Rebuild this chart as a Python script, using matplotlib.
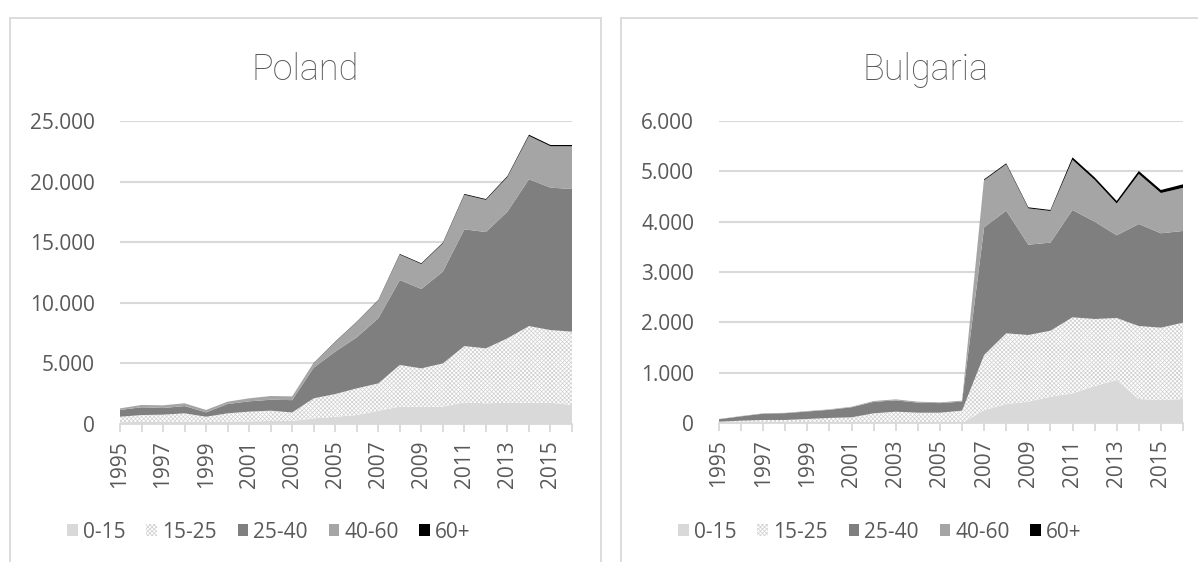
import matplotlib
matplotlib.use('Agg')
import matplotlib.pyplot as plt
from matplotlib.patches import Rectangle, Patch
from matplotlib.ticker import FuncFormatter, MultipleLocator
import numpy as np

plt.rcParams['font.family'] = ['Open Sans', 'DejaVu Sans']
plt.rcParams['hatch.linewidth'] = 0.5

#%% data
years = list(range(1995, 2017))
groups = ['0-15', '15-25', '25-40', '40-60', '60+']

pl_0_15 = [150, 170, 180, 200, 150, 200, 220, 250, 250, 470, 600, 740, 1100, 1430, 1430, 1430, 1790, 1710, 1760, 1760, 1760, 1570]
pl_15_25 = [450, 570, 590, 680, 450, 680, 800, 850, 700, 1650, 1870, 2200, 2250, 3440, 3160, 3570, 4640, 4530, 5310, 6320, 5990, 6050]
pl_25_40 = [560, 640, 550, 600, 360, 770, 850, 900, 1020, 2530, 3500, 4210, 5370, 7010, 6550, 7570, 9630, 9600, 10450, 12110, 11750, 11770]
pl_40_60 = [130, 190, 220, 230, 200, 190, 250, 310, 310, 370, 800, 1260, 1470, 2090, 2060, 2330, 2850, 2650, 2860, 3580, 3420, 3530]
pl_60p = [0, 0, 0, 0, 0, 0, 0, 0, 0, 20, 30, 30, 40, 60, 60, 60, 70, 70, 80, 100, 100, 100]

bg_0_15 = [0, 0, 0, 0, 0, 0, 0, 0, 0, 0, 0, 0, 258, 377, 424, 523, 590, 735, 854, 477, 457, 477]
bg_15_25 = [26, 46, 60, 60, 80, 100, 113, 192, 225, 205, 205, 245, 1093, 1405, 1324, 1311, 1510, 1331, 1232, 1450, 1437, 1516]
bg_25_40 = [49, 86, 125, 135, 148, 162, 199, 228, 225, 200, 190, 180, 2537, 2436, 1795, 1749, 2132, 1934, 1643, 2027, 1875, 1822]
bg_40_60 = [5, 7, 7, 7, 10, 10, 12, 17, 20, 19, 15, 19, 934, 922, 722, 629, 996, 831, 632, 993, 800, 857]
bg_60p = [0, 0, 0, 0, 0, 0, 0, 0, 0, 0, 0, 0, 20, 20, 20, 20, 50, 50, 50, 60, 60, 70]

#%% style
colors = ['#d9d9d9', 'white', '#7f7f7f', '#a5a5a5', '#000000']
hatch = 'xxxxxxxx'
hatch_col = '#cfcfcf'
txt_col = '#595959'
grid_col = '#d9d9d9'
fs = 15

W, H = 1198, 562
fig = plt.figure(figsize=(W / 100, H / 100), dpi=100)

# panel borders
for x0, x1 in [(10, 601), (621, 1210)]:
    fig.add_artist(Rectangle((x0 / W, -0.1), (x1 - x0) / W, 1.1 - 18 / H,
                             transform=fig.transFigure, fill=False,
                             ec=grid_col, lw=1.3))

fmt = FuncFormatter(lambda v, p: '{:,.0f}'.format(v).replace(',', '.'))


def draw_panel(rect, series, ymax, ystep, title, tx, legx):
    ax = fig.add_axes(rect)
    polys = ax.stackplot(years, *series, colors=colors, linewidth=0)
    polys[1].set_hatch(hatch)
    polys[1].set_edgecolor(hatch_col)
    polys[1].set_linewidth(0)
    ax.set_xlim(years[0], years[-1])
    ax.set_ylim(0, ymax)
    ax.yaxis.set_major_locator(MultipleLocator(ystep))
    ax.yaxis.set_major_formatter(fmt)
    ax.set_xticks(years)
    ax.set_xticklabels([str(y) if (y - 1995) % 2 == 0 else '' for y in years],
                       rotation=90)
    ax.grid(axis='y', color=grid_col, lw=1.5)
    ax.set_axisbelow(True)
    for s in ['top', 'right', 'left']:
        ax.spines[s].set_visible(False)
    ax.spines['bottom'].set_color(grid_col)
    ax.spines['bottom'].set_linewidth(1.3)
    ax.tick_params(axis='y', length=0, pad=18, labelsize=fs, labelcolor=txt_col)
    ax.tick_params(axis='x', length=6, width=1.3, color=grid_col, pad=6,
                   labelsize=fs, labelcolor=txt_col)
    fig.text(tx / W, 1 - 70 / H, title, ha='center', va='center',
             fontsize=26, color=txt_col, family=['Roboto', 'Open Sans'],
             fontweight='light')
    handles = []
    for i, g in enumerate(groups):
        if i == 1:
            handles.append(Patch(facecolor='white', edgecolor=hatch_col, hatch=hatch, lw=0, label=g))
        else:
            handles.append(Patch(facecolor=colors[i], lw=0, label=g))
    fig.legend(handles=handles, loc='center', bbox_to_anchor=(legx / W, 1 - 532 / H),
               ncol=5, frameon=False, fontsize=fs, labelcolor=txt_col,
               handlelength=0.5, handleheight=0.5, handletextpad=0.25,
               columnspacing=1.0)
    return ax


draw_panel([120 / W, 1 - 424 / H, 452 / W, 303 / H],
           [pl_0_15, pl_15_25, pl_25_40, pl_40_60, pl_60p],
           25000, 5000, 'Poland', 305, 269)
draw_panel([719 / W, 1 - 423 / H, 464 / W, 302 / H],
           [bg_0_15, bg_15_25, bg_25_40, bg_40_60, bg_60p],
           6000, 1000, 'Bulgaria', 926, 880)

fig.savefig('out.png', dpi=100)
